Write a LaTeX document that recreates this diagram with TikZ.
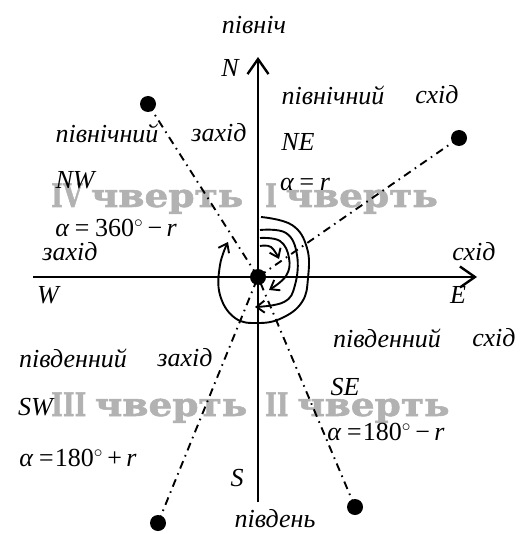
\documentclass[tikz,border=0pt]{standalone}
\usepackage{fontspec}
\setmainfont{Liberation Serif}
\newfontfamily\quartfont[BoldFeatures={FakeBold=1.6}]{DejaVu Serif}
\usetikzlibrary{arrows.meta}
\newcommand{\chv}{\scalebox{1.5}[1]{чверть}}
\newcommand{\qtxt}[1]{\scalebox{1}[1.3]{#1}}
\begin{document}
\begin{tikzpicture}[x=1pt,y=-1pt,
  lbl/.style={font=\fontsize{26}{26}\selectfont\itshape, inner sep=0},
  quart/.style={font=\quartfont\fontsize{25}{25}\selectfont\bfseries, text=black!30, inner sep=0, anchor=base west},
  axisline/.style={line width=2.4pt, -{Straight Barb[length=15pt,width=21pt,line width=2.4pt]}},
  ray/.style={line width=1.9pt, dash pattern=on 8pt off 5pt on 1.6pt off 5pt},
  spiral/.style={line width=1.9pt, -{Straight Barb[length=8pt,width=12pt,line width=1.9pt]}},
  pt/.style={circle, fill=black, inner sep=0, minimum size=16pt}]
\useasboundingbox (0,0) rectangle (527,534);
% quarter labels (gray)
\node[quart] (q4) at (51,207) {\qtxt{IV \chv}};
\node[quart] (q1) at (265,207) {\qtxt{I \chv}};
\node[quart] (q3) at (51,416) {\qtxt{III \chv}};
\node[quart] (q2) at (265,416) {\qtxt{II \chv}};
% axes
\node[pt] (c) at (258,277) {};
\coordinate (Nt) at (258,57);
\coordinate (Sb) at (258,502);
\coordinate (Wl) at (33,277);
\coordinate (Et) at (477,277);
\draw[axisline] (Sb) -- (Nt);
\draw[axisline] (Wl) -- (Et);
% rays
\node[pt] (nw) at (148,104) {};
\node[pt] (ne) at (459,138) {};
\node[pt] (se) at (355,507) {};
\node[pt] (sw) at (158,523) {};
\draw[ray] (nw.center) -- (c.center);
\draw[ray] (ne.center) -- (c.center);
\draw[ray] (se.center) -- (c.center);
\draw[ray] (sw.center) -- (c.center);
% spirals
\draw[spiral] plot[smooth, tension=0.7] coordinates {(260,246) (271,247) (279,259)};
\draw[spiral] plot[smooth, tension=0.7] coordinates {(260,238) (280,241) (289,258) (286,276) (269,290)};
\draw[spiral] plot[smooth, tension=0.7] coordinates {(260,230) (286,233) (297,255) (295,285) (284,302) (255,307)};
\draw[spiral] plot[smooth, tension=0.7] coordinates {(261,217) (292,225) (307,248) (308,278) (302,302) (282,318) (258,323) (235,318) (220,295) (220,265) (228,242)};
% labels
\node[lbl] (north) at (254,25) {північ};
\node[lbl] (N) at (230,68) {N};
\node[lbl] (nen) at (333,95) {північний};
\node[lbl] (nee) at (437,95) {схід};
\node[lbl] (nwn) at (107,133) {північний};
\node[lbl] (nww) at (219,133) {захід};
\node[lbl] (NE) at (298,142) {NE};
\node[lbl] (NW) at (75,180) {NW};
\node[lbl] (a1) at (305,185) {α\,=\,\textit{r}};
\node[lbl] (a4) at (116,228) {α\,=\,\upshape 360$^{\circ}$\,−\,\itshape r};
\node[lbl] (west) at (70,252) {захід};
\node[lbl] (W) at (48,295) {W};
\node[lbl] (east) at (474,252) {схід};
\node[lbl] (E) at (458,295) {E};
\node[lbl] (sen) at (387,338) {південний};
\node[lbl] (see) at (494,338) {схід};
\node[lbl] (swn) at (73,358) {південний};
\node[lbl] (sww) at (185,358) {захід};
\node[lbl] (SE) at (345,387) {SE};
\node[lbl, anchor=base west] (SW) at (18,415) {SW};
\node[lbl] (a2) at (386,432) {α\,=\upshape 180$^{\circ}$\,−\,\itshape r};
\node[lbl] (a3) at (78,458) {α\,=\upshape 180$^{\circ}$\,+\,\itshape r};
\node[lbl] (S) at (237,478) {S};
\node[lbl] (south) at (275,519) {південь};
\end{tikzpicture}
\end{document}
